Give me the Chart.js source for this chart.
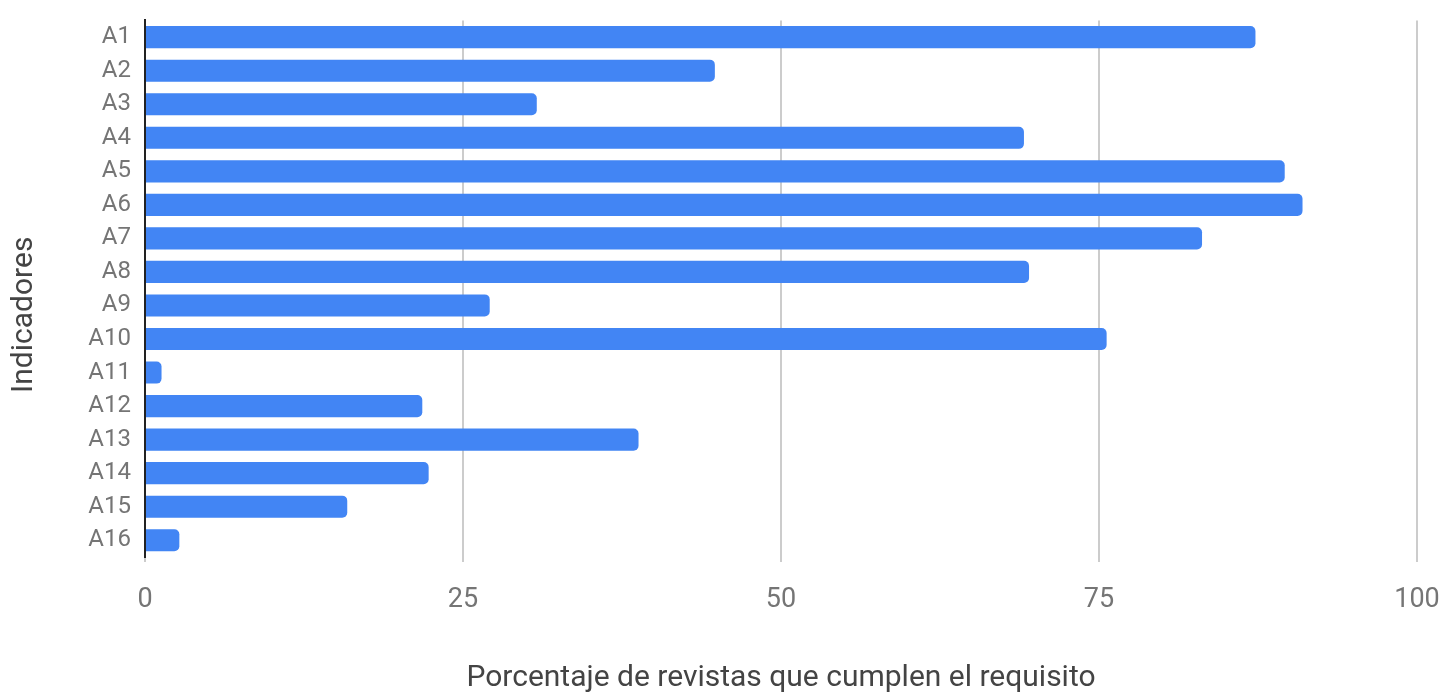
<!DOCTYPE html>
<html>
<head>
<meta charset="utf-8">
<script src="https://cdn.jsdelivr.net/npm/chart.js@4/dist/chart.umd.min.js"></script>
<style>
  html, body { margin: 0; padding: 0; background: #fff; }
  #wrap { width: 1443px; height: 696px; position: relative; }
</style>
</head>
<body>
<div id="wrap"><canvas id="bar-chart"></canvas></div>
<script>
// data
const indicadores = ['A1', 'A2', 'A3', 'A4', 'A5', 'A6', 'A7', 'A8', 'A9', 'A10', 'A11', 'A12', 'A13', 'A14', 'A15', 'A16'];
const porcentajes = [87.3, 44.8, 30.8, 69.1, 89.6, 91.0, 83.1, 69.5, 27.1, 75.6, 1.3, 21.8, 38.8, 22.3, 15.9, 2.7];
const xTicks = [0, 25, 50, 75, 100];

const labelColor = '#757575';

new Chart(document.getElementById('bar-chart'), {
    type: 'bar',
    data: {
        labels: indicadores,
        datasets: [{
            data: porcentajes,
            backgroundColor: '#4285f4',
            borderRadius: 5,
            borderSkipped: 'start',
            categoryPercentage: 1,
            barPercentage: 0.66,
        }],
    },
    options: {
        indexAxis: 'y',
        responsive: true,
        maintainAspectRatio: false,
        animation: false,
        layout: { padding: { top: 15, right: 0, left: 0, bottom: 0 } },
        plugins: { legend: { display: false }, tooltip: { enabled: false } },
        scales: {
            x: {
                min: 0,
                max: 100,
                afterBuildTicks: (scale) => { scale.ticks = xTicks.map(v => ({ value: v })) },
                afterFit: (scale) => {
                    scale.height = 139
                    scale.paddingRight = 26  // let "100" hang into the margin
                },
                grid: { color: '#cccccc', lineWidth: 2, tickLength: 5 },
                border: { display: false },
                ticks: { color: labelColor, padding: 22, font: { family: 'Roboto', size: 27 } },
                title: {
                    display: true,
                    text: 'Porcentaje de revistas que cumplen el requisito',
                    color: '#444444',
                    font: { family: 'Roboto', size: 30 },
                    padding: { top: 0, bottom: 0 },
                },
            },
            y: {
                afterFit: (scale) => { scale.width = 145 },
                grid: { display: false },
                border: { display: true, color: '#222222', width: 2 },
                ticks: { color: labelColor, padding: 6, font: { family: 'Roboto', size: 24 } },
                title: {
                    display: true,
                    // trailing spaces push the rotated title a bit lower, like the original
                    text: 'Indicadores       ',
                    color: '#444444',
                    font: { family: 'Roboto', size: 30 },
                    padding: { top: 6, bottom: 0 },
                },
            },
        },
    },
});
</script>
</body>
</html>
